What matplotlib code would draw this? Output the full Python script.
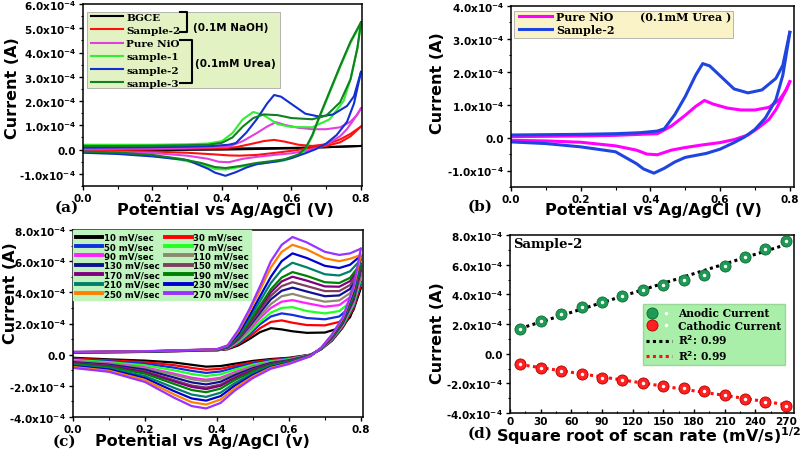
import numpy as np
import matplotlib
matplotlib.use('Agg')
import matplotlib.pyplot as plt
from matplotlib.ticker import FuncFormatter, MultipleLocator, FormatStrFormatter
from matplotlib.patches import Rectangle
from matplotlib.legend_handler import HandlerTuple

plt.rcParams['font.family'] = 'DejaVu Sans'
plt.rcParams['font.weight'] = 'bold'
plt.rcParams['mathtext.fontset'] = 'dejavusans'
plt.rcParams['mathtext.default'] = 'bf'

SCALE = 1e-4  # all currents below are in units of 1e-4 A

# ---------------- (a)/(b) cyclic voltammograms ----------------
bg_fwd_E = [0.0, 0.2, 0.4, 0.6, 0.7, 0.8]
bg_fwd_I = [0.0, 0.02, 0.04, 0.07, 0.1, 0.15]
bg_rev_E = [0.8, 0.6, 0.4, 0.2, 0.0]
bg_rev_I = [0.15, 0.05, 0.0, -0.02, -0.03]

naoh_fwd_E = [0.0, 0.2, 0.4, 0.44, 0.48, 0.52, 0.55, 0.58, 0.62, 0.66, 0.7, 0.74, 0.77, 0.8]
naoh_fwd_I = [0.0, 0.02, 0.05, 0.1, 0.22, 0.35, 0.4, 0.33, 0.2, 0.15, 0.22, 0.42, 0.65, 0.95]
naoh_rev_E = [0.8, 0.77, 0.74, 0.7, 0.65, 0.6, 0.55, 0.5, 0.45, 0.42, 0.38, 0.3, 0.2, 0.1, 0.0]
naoh_rev_I = [0.95, 0.55, 0.3, 0.15, 0.05, -0.05, -0.14, -0.22, -0.25, -0.24, -0.2, -0.13, -0.08, -0.06, -0.05]

nio_fwd_E = [0.0, 0.1, 0.2, 0.3, 0.37, 0.42, 0.46, 0.5, 0.53, 0.555, 0.58, 0.62, 0.66, 0.7, 0.74, 0.77, 0.79, 0.8]
nio_fwd_I = [0.03, 0.04, 0.05, 0.07, 0.1, 0.12, 0.35, 0.68, 0.95, 1.13, 1.02, 0.9, 0.84, 0.84, 0.92, 1.15, 1.45, 1.7]
nio_rev_E = [0.8, 0.78, 0.76, 0.74, 0.71, 0.68, 0.64, 0.6, 0.55, 0.5, 0.46, 0.42, 0.39, 0.36, 0.3, 0.2, 0.1, 0.0]
nio_rev_I = [1.7, 1.25, 0.85, 0.55, 0.3, 0.08, -0.06, -0.15, -0.22, -0.3, -0.38, -0.52, -0.5, -0.38, -0.25, -0.14, -0.1, -0.08]

s1_fwd_E = [0.0, 0.1, 0.2, 0.3, 0.36, 0.4, 0.43, 0.46, 0.49, 0.52, 0.56, 0.6, 0.66, 0.71, 0.75, 0.77, 0.79, 0.8]
s1_fwd_I = [0.2, 0.2, 0.2, 0.22, 0.25, 0.35, 0.68, 1.25, 1.55, 1.42, 1.05, 0.93, 0.92, 1.25, 2.0, 2.9, 4.2, 5.2]
s1_rev_E = [0.8, 0.77, 0.74, 0.72, 0.7, 0.68, 0.66, 0.64, 0.62, 0.58, 0.54, 0.5, 0.45, 0.41, 0.38, 0.34, 0.28, 0.2, 0.1, 0.0]
s1_rev_I = [5.2, 4.4, 3.4, 2.7, 2.0, 1.3, 0.55, 0.02, -0.25, -0.45, -0.52, -0.6, -0.72, -0.82, -0.8, -0.6, -0.42, -0.25, -0.15, -0.1]

s2_fwd_E = [0.0, 0.1, 0.2, 0.3, 0.37, 0.42, 0.44, 0.47, 0.5, 0.53, 0.55, 0.57, 0.6, 0.64, 0.68, 0.72, 0.76, 0.78, 0.8]
s2_fwd_I = [0.08, 0.09, 0.1, 0.12, 0.15, 0.2, 0.27, 0.7, 1.25, 1.9, 2.25, 2.18, 1.88, 1.48, 1.36, 1.45, 1.8, 2.2, 3.2]
s2_rev_E = [0.8, 0.78, 0.76, 0.73, 0.7, 0.67, 0.64, 0.6, 0.56, 0.5, 0.47, 0.44, 0.41, 0.38, 0.36, 0.3, 0.2, 0.1, 0.0]
s2_rev_I = [3.2, 1.9, 1.15, 0.6, 0.25, 0.02, -0.15, -0.35, -0.48, -0.6, -0.74, -0.93, -1.08, -0.95, -0.79, -0.43, -0.28, -0.18, -0.13]

s3_fwd_E = [0.0, 0.1, 0.2, 0.3, 0.36, 0.4, 0.43, 0.46, 0.49, 0.52, 0.56, 0.6, 0.66, 0.7, 0.74, 0.77, 0.79, 0.8]
s3_fwd_I = [0.15, 0.15, 0.16, 0.18, 0.2, 0.28, 0.5, 0.95, 1.3, 1.45, 1.42, 1.3, 1.25, 1.4, 1.95, 2.9, 4.2, 5.25]
s3_rev_E = [0.8, 0.77, 0.74, 0.72, 0.7, 0.68, 0.66, 0.64, 0.62, 0.58, 0.54, 0.5, 0.45, 0.41, 0.38, 0.34, 0.28, 0.2, 0.1, 0.0]
s3_rev_I = [5.25, 4.45, 3.45, 2.75, 2.05, 1.35, 0.6, 0.05, -0.2, -0.4, -0.48, -0.55, -0.68, -0.76, -0.72, -0.55, -0.38, -0.22, -0.12, -0.08]

# ---------------- (c) scan-rate study ----------------
rates_c = [10, 30, 50, 70, 90, 110, 130, 150, 170, 190, 210, 230, 250, 270]
colors_c = ['#000000', '#ff0000', '#1030e0', '#22ff22', '#ff22ff', '#8c8a6e', '#101090',
            '#7f3f5f', '#800080', '#008000', '#00806a', '#0000d0', '#ff8000', '#9933ff']
E_fwd_c = [0.0, 0.2, 0.4, 0.43, 0.46, 0.49, 0.52, 0.55, 0.58, 0.61, 0.65, 0.7, 0.74, 0.77, 0.8]
fwd_10 = [0.12, 0.18, 0.28, 0.35, 0.6, 1.0, 1.45, 1.7, 1.62, 1.5, 1.4, 1.42, 1.7, 2.4, 4.3]
fwd_30 = [0.13, 0.18, 0.29, 0.37, 0.68, 1.15, 1.7, 2.1, 2.2, 2.05, 1.9, 1.88, 2.1, 2.8, 4.5]
fwd_50 = [0.13, 0.19, 0.29, 0.39, 0.75, 1.3, 1.95, 2.45, 2.65, 2.55, 2.35, 2.27, 2.45, 3.05, 4.7]
fwd_70 = [0.13, 0.19, 0.3, 0.41, 0.82, 1.42, 2.12, 2.7, 3.0, 3.05, 2.8, 2.65, 2.8, 3.35, 4.85]
fwd_90 = [0.14, 0.19, 0.3, 0.43, 0.9, 1.58, 2.35, 3.0, 3.4, 3.5, 3.3, 3.08, 3.18, 3.68, 5.05]
fwd_110 = [0.14, 0.2, 0.31, 0.44, 0.95, 1.7, 2.5, 3.25, 3.75, 3.9, 3.65, 3.4, 3.48, 3.95, 5.2]
fwd_130 = [0.15, 0.2, 0.31, 0.46, 1.0, 1.82, 2.7, 3.55, 4.1, 4.3, 4.05, 3.75, 3.8, 4.22, 5.4]
fwd_150 = [0.15, 0.2, 0.32, 0.48, 1.05, 1.92, 2.86, 3.78, 4.4, 4.65, 4.4, 4.08, 4.08, 4.47, 5.55]
fwd_170 = [0.15, 0.2, 0.32, 0.49, 1.11, 2.03, 3.02, 4.0, 4.7, 5.0, 4.75, 4.38, 4.36, 4.72, 5.7]
fwd_190 = [0.16, 0.2, 0.32, 0.5, 1.15, 2.12, 3.15, 4.2, 4.95, 5.3, 5.05, 4.65, 4.6, 4.93, 5.85]
fwd_210 = [0.16, 0.21, 0.33, 0.53, 1.25, 2.3, 3.45, 4.6, 5.45, 5.9, 5.6, 5.16, 5.08, 5.35, 6.1]
fwd_230 = [0.17, 0.21, 0.34, 0.56, 1.35, 2.5, 3.75, 5.0, 6.0, 6.5, 6.2, 5.7, 5.56, 5.77, 6.35]
fwd_250 = [0.17, 0.22, 0.34, 0.58, 1.5, 2.75, 4.15, 5.6, 6.6, 7.05, 6.75, 6.18, 6.0, 6.15, 6.4]
fwd_270 = [0.18, 0.22, 0.35, 0.6, 1.6, 2.9, 4.4, 6.0, 7.05, 7.55, 7.2, 6.6, 6.4, 6.5, 6.8]

E_rev_c = [0.8, 0.78, 0.75, 0.72, 0.69, 0.66, 0.6, 0.55, 0.5, 0.45, 0.41, 0.37, 0.33, 0.28, 0.2, 0.1, 0.0]
rev_10 = [4.3, 2.9, 1.75, 0.9, 0.35, 0.0, -0.2, -0.28, -0.4, -0.58, -0.73, -0.77, -0.65, -0.5, -0.38, -0.3, -0.2]
rev_30 = [4.5, 3.0, 1.8, 0.93, 0.36, -0.01, -0.23, -0.33, -0.48, -0.71, -0.91, -0.97, -0.85, -0.67, -0.48, -0.36, -0.25]
rev_50 = [4.7, 3.12, 1.85, 0.96, 0.36, -0.01, -0.26, -0.37, -0.56, -0.83, -1.08, -1.17, -1.04, -0.83, -0.58, -0.42, -0.3]
rev_70 = [4.85, 3.23, 1.89, 0.99, 0.37, -0.02, -0.29, -0.42, -0.64, -0.96, -1.26, -1.37, -1.24, -1.0, -0.68, -0.48, -0.34]
rev_90 = [5.05, 3.37, 1.95, 1.03, 0.38, -0.03, -0.33, -0.48, -0.75, -1.12, -1.48, -1.61, -1.48, -1.21, -0.81, -0.55, -0.4]
rev_110 = [5.2, 3.43, 1.98, 1.04, 0.39, -0.04, -0.34, -0.5, -0.79, -1.19, -1.56, -1.71, -1.58, -1.29, -0.86, -0.58, -0.43]
rev_130 = [5.4, 3.54, 2.03, 1.07, 0.39, -0.04, -0.37, -0.54, -0.87, -1.31, -1.74, -1.91, -1.78, -1.46, -0.96, -0.64, -0.48]
rev_150 = [5.55, 3.65, 2.08, 1.1, 0.4, -0.05, -0.4, -0.59, -0.95, -1.44, -1.92, -2.11, -1.98, -1.63, -1.07, -0.7, -0.53]
rev_170 = [5.7, 3.71, 2.1, 1.11, 0.4, -0.05, -0.41, -0.61, -0.99, -1.5, -2.0, -2.21, -2.07, -1.71, -1.12, -0.73, -0.55]
rev_190 = [5.85, 3.82, 2.15, 1.14, 0.41, -0.06, -0.44, -0.66, -1.07, -1.63, -2.18, -2.41, -2.27, -1.87, -1.22, -0.79, -0.6]
rev_210 = [6.1, 3.98, 2.22, 1.19, 0.42, -0.07, -0.49, -0.73, -1.19, -1.82, -2.44, -2.71, -2.56, -2.12, -1.37, -0.88, -0.67]
rev_230 = [6.35, 4.12, 2.28, 1.23, 0.43, -0.08, -0.53, -0.79, -1.3, -1.98, -2.66, -2.95, -2.81, -2.33, -1.5, -0.95, -0.73]
rev_250 = [6.4, 4.26, 2.34, 1.26, 0.44, -0.09, -0.56, -0.84, -1.4, -2.14, -2.88, -3.2, -3.05, -2.54, -1.62, -1.03, -0.79]
rev_270 = [6.8, 4.4, 2.4, 1.3, 0.45, -0.1, -0.6, -0.9, -1.5, -2.3, -3.1, -3.45, -3.3, -2.75, -1.75, -1.1, -0.85]

fwd_c = [fwd_10, fwd_30, fwd_50, fwd_70, fwd_90, fwd_110, fwd_130, fwd_150, fwd_170, fwd_190, fwd_210, fwd_230, fwd_250, fwd_270]
rev_c = [rev_10, rev_30, rev_50, rev_70, rev_90, rev_110, rev_130, rev_150, rev_170, rev_190, rev_210, rev_230, rev_250, rev_270]

# ---------------- (d) peak currents ----------------
sqrt_rate = [10, 30, 50, 70, 90, 110, 130, 150, 170, 190, 210, 230, 250, 270]
i_anodic = [1.65, 2.17, 2.67, 3.12, 3.5, 3.91, 4.32, 4.66, 5.0, 5.27, 5.9, 6.52, 7.08, 7.58]
i_cathodic = [-0.72, -0.95, -1.18, -1.4, -1.63, -1.79, -1.97, -2.15, -2.31, -2.49, -2.76, -3.03, -3.28, -3.55]


def amp_fmt(v, pos):
    m = v / SCALE
    if abs(m) < 1e-9:
        return '0.0'
    return f'{m:.1f}x$10^{{-4}}$'


def style(ax, xmaj, xmin, ymaj, ymin, xfmt):
    ax.xaxis.set_major_locator(MultipleLocator(xmaj))
    ax.xaxis.set_minor_locator(MultipleLocator(xmin))
    ax.yaxis.set_major_locator(MultipleLocator(ymaj * SCALE))
    ax.yaxis.set_minor_locator(MultipleLocator(ymin * SCALE))
    ax.xaxis.set_major_formatter(FormatStrFormatter(xfmt))
    ax.yaxis.set_major_formatter(FuncFormatter(amp_fmt))
    ax.tick_params(which='major', length=3, width=1, labelsize=7.5, pad=2)
    ax.tick_params(which='minor', length=1.8, width=0.8)
    for s in ax.spines.values():
        s.set_linewidth(1.1)


def cv(ax, E_f, I_f, E_r, I_r, color, lw, label=None):
    ax.plot(E_f, np.array(I_f) * SCALE, color=color, lw=lw, label=label)
    ax.plot(E_r, np.array(I_r) * SCALE, color=color, lw=lw)


W, H = 803, 452
fig = plt.figure(figsize=(8.03, 4.52), dpi=100)


def add_axes(l, t, r, b):
    return fig.add_axes([l / W, 1 - b / H, (r - l) / W, (b - t) / H])


ax_a = add_axes(83, 5, 362, 187)
ax_b = add_axes(511, 7, 794, 188)
ax_c = add_axes(73, 231, 363, 418)
ax_d = add_axes(510, 236, 794, 414)

# ---- (a)
cv(ax_a, bg_fwd_E, bg_fwd_I, bg_rev_E, bg_rev_I, 'black', 1.5, 'BGCE')
cv(ax_a, naoh_fwd_E, naoh_fwd_I, naoh_rev_E, naoh_rev_I, '#ff1010', 1.5, 'Sample-2')
cv(ax_a, nio_fwd_E, nio_fwd_I, nio_rev_E, nio_rev_I, '#e040e0', 1.5, 'Pure NiO')
cv(ax_a, s1_fwd_E, s1_fwd_I, s1_rev_E, s1_rev_I, '#33ee33', 1.5, 'sample-1')
cv(ax_a, s2_fwd_E, s2_fwd_I, s2_rev_E, s2_rev_I, '#1030d0', 1.5, 'sample-2')
cv(ax_a, s3_fwd_E, s3_fwd_I, s3_rev_E, s3_rev_I, '#108020', 1.5, 'sample-3')
ax_a.set_xlim(0, 0.803)
ax_a.set_ylim(-1.5 * SCALE, 6.0 * SCALE)
style(ax_a, 0.2, 0.1, 1.0, 0.5, '%.1f')
ax_a.add_patch(Rectangle((0.014, 0.538), 0.692, 0.418, transform=ax_a.transAxes,
                         facecolor='#e3f2c3', edgecolor='#aaaaaa', lw=0.6, zorder=3))
leg = ax_a.legend(loc='upper left', bbox_to_anchor=(0.0, 0.998), frameon=False,
                  prop={'family': 'DejaVu Serif', 'weight': 'bold', 'size': 7.5},
                  handlelength=3.0, handletextpad=0.35, labelspacing=0.37, borderpad=0.3)
leg.set_zorder(4)
for x0, x1, y0, y1 in [(0.348, 0.373, 0.958, 0.845), (0.348, 0.39, 0.804, 0.566)]:
    ax_a.plot([x0, x1, x1, x0], [y0, y0, y1, y1], color='black', lw=1.5,
              transform=ax_a.transAxes, zorder=5)
ax_a.text(0.395, 0.872, '(0.1M NaOH)', transform=ax_a.transAxes, fontsize=7.5,
          va='center', zorder=5)
ax_a.text(0.402, 0.675, '(0.1mM Urea)', transform=ax_a.transAxes, fontsize=7.5,
          va='center', zorder=5)

# ---- (b)
cv(ax_b, nio_fwd_E, nio_fwd_I, nio_rev_E, nio_rev_I, '#ff00ff', 2.2, 'Pure NiO')
cv(ax_b, s2_fwd_E, s2_fwd_I, s2_rev_E, s2_rev_I, '#1f45e0', 2.2, 'Sample-2')
ax_b.set_xlim(0, 0.812)
ax_b.set_ylim(-1.5 * SCALE, 4.0 * SCALE)
style(ax_b, 0.2, 0.1, 1.0, 0.5, '%.1f')
ax_b.add_patch(Rectangle((0.011, 0.823), 0.773, 0.149, transform=ax_b.transAxes,
                         facecolor='#fbf3c8', edgecolor='#aaaaaa', lw=0.6, zorder=3))
leg = ax_b.legend(loc='upper left', bbox_to_anchor=(0.0, 1.015), frameon=False,
                  prop={'family': 'DejaVu Serif', 'weight': 'bold', 'size': 8},
                  handlelength=3.0, handletextpad=0.35, labelspacing=0.2, borderpad=0.2)
leg.set_zorder(4)
ax_b.text(0.456, 0.943, '(0.1mM Urea )', transform=ax_b.transAxes, fontsize=8,
          family='DejaVu Serif', va='center', zorder=5)

# ---- (c)
for rate, col, f_i, r_i in zip(rates_c, colors_c, fwd_c, rev_c):
    cv(ax_c, E_fwd_c, f_i, E_rev_c, r_i, col, 1.6, f'{rate} mV/sec')
ax_c.set_xlim(0, 0.806)
ax_c.set_ylim(-4.0 * SCALE, 8.0 * SCALE)
style(ax_c, 0.2, 0.1, 2.0, 1.0, '%.1f')
h, l = ax_c.get_legend_handles_labels()
# legend reads row by row: 10 | 30, 50 | 70, ...
order = list(range(0, 14, 2)) + list(range(1, 14, 2))
leg = ax_c.legend([h[i] for i in order], [l[i] for i in order],
                  loc='upper left', bbox_to_anchor=(0.0, 1.0), ncol=2, fontsize=6.2,
                  handlelength=3.1, handletextpad=0.2, columnspacing=0.6,
                  labelspacing=0.05, borderpad=0.25, borderaxespad=0.05,
                  facecolor='#bff4bf', edgecolor='#bff4bf', framealpha=1, fancybox=False)
for ln in leg.get_lines():
    ln.set_linewidth(2.8)

# ---- (d)
x_d = np.array(sqrt_rate)
ya = np.array(i_anodic) * SCALE
yc = np.array(i_cathodic) * SCALE
pa = np.polyfit(x_d, ya, 1)
pc = np.polyfit(x_d, yc, 1)
fa, = ax_d.plot(x_d, np.polyval(pa, x_d), color='black', lw=2.2, ls=(0, (1, 1.1)), zorder=2)
fc, = ax_d.plot(x_d, np.polyval(pc, x_d), color='#ff1010', lw=2.2, ls=(0, (1, 1.1)), zorder=2)
ga, = ax_d.plot(x_d, ya, 'o', color='#1f9a55', ms=8, mec='#0d6a35', mew=0.6, zorder=3)
gc, = ax_d.plot(x_d, yc, 'o', color='#ff2020', ms=8, mec='#b00000', mew=0.6, zorder=3)
wa, = ax_d.plot(x_d, ya, 'o', color='white', ms=2.5, mew=0, zorder=4)
wc, = ax_d.plot(x_d, yc, 'o', color='white', ms=2.5, mew=0, zorder=4)
ax_d.set_xlim(0, 278)
ax_d.set_ylim(-4.0 * SCALE, 8.0 * SCALE)
style(ax_d, 30, 15, 2.0, 1.0, '%d')
ax_d.tick_params(axis='x', which='both', direction='in', pad=2)
ax_d.legend([(ga, wa), (gc, wc), fa, fc],
            ['Anodic Current', 'Cathodic Current', 'R$^2$: 0.99', 'R$^2$: 0.99'],
            handler_map={tuple: HandlerTuple(ndivide=None)},
            loc='upper left', bbox_to_anchor=(0.468, 0.612), borderaxespad=0,
            prop={'family': 'DejaVu Serif', 'weight': 'bold', 'size': 7.7},
            handlelength=2.4, handletextpad=0.6, labelspacing=0.15, borderpad=0.3,
            facecolor='#a9eea9', edgecolor='#9ad89a', framealpha=1, fancybox=False)
ax_d.text(0.01, 0.955, 'Sample-2', transform=ax_d.transAxes, family='DejaVu Serif',
          fontsize=9.5, va='center')

# ---- axis labels
lab_kw = dict(fontsize=11.5, fontweight='bold')
ax_a.set_xlabel('Potential vs Ag/AgCl (V)', **lab_kw)
ax_a.xaxis.set_label_coords(0.509, -0.09)
ax_b.set_xlabel('Potential vs Ag/AgCl (V)', **lab_kw)
ax_b.xaxis.set_label_coords(0.502, -0.085)
ax_c.set_xlabel('Potential vs Ag/AgCl (v)', **lab_kw)
ax_c.xaxis.set_label_coords(0.445, -0.088)
ax_d.set_xlabel('Square root of scan rate (mV/s)$^{1/2}$', **lab_kw)
ax_d.xaxis.set_label_coords(0.486, -0.064)
for ax, xy in [(ax_a, (-0.226, 0.541)), (ax_b, (-0.233, 0.577)),
               (ax_c, (-0.19, 0.67)), (ax_d, (-0.229, 0.457))]:
    ax.set_ylabel('Current (A)', **lab_kw)
    ax.yaxis.set_label_coords(*xy)

for txt, x, y in [('(a)', 55, 208), ('(b)', 468, 207), ('(c)', 53, 442), ('(d)', 468, 434)]:
    fig.text(x / W, 1 - y / H, txt, family='DejaVu Serif', fontsize=11, va='center')

fig.savefig('out.png', dpi=100)
